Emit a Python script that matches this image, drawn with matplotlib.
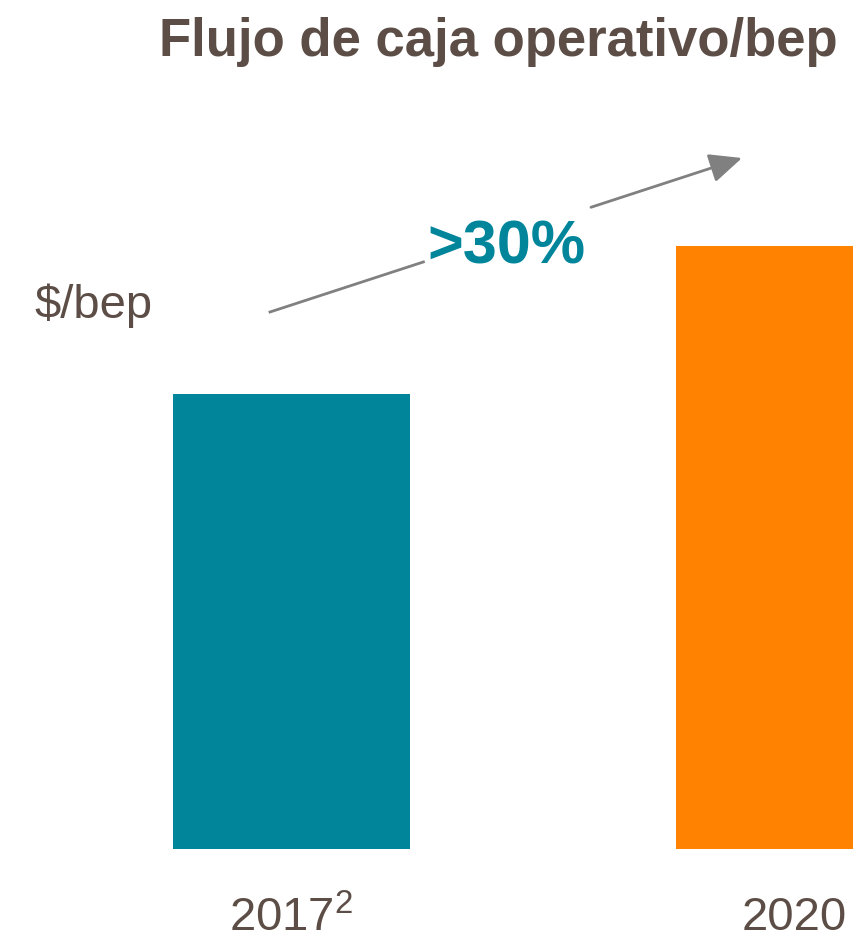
import matplotlib
matplotlib.use("Agg")
import matplotlib.pyplot as plt

# Operating cash flow per barrel of oil equivalent (index, 2017 = 100)
years = ["2017$^{2}$", "2020"]
values = [100.0, 132.5]
bar_colors = ["#00859B", "#FF8200"]
growth_label = ">30%"
unit_label = "$/bep"
title = "Flujo de caja operativo/bep"

text_color = "#5C4E46"
plt.rcParams["font.family"] = ["Liberation Sans", "DejaVu Sans"]
plt.rcParams["mathtext.fontset"] = "custom"
plt.rcParams["mathtext.rm"] = "Liberation Sans"
plt.rcParams["mathtext.it"] = "Liberation Sans"
plt.rcParams["mathtext.default"] = "regular"

W, H = 854, 941
fig = plt.figure(figsize=(W / 100, H / 100), dpi=100)
fig.patch.set_facecolor("white")

# Axes: bottom at the bar base, top at the taller bar
ax_bottom = (H - 849) / H
ax_top = (H - 246) / H
ax = fig.add_axes([0, ax_bottom, 1, ax_top - ax_bottom])

pitch = 503.0           # px between bar centers
first_center = 291.5    # px
width = 237.0 / pitch
x = list(range(len(years)))
ax.bar(x, values, width=width, color=bar_colors, edgecolor="none")
ax.set_xlim(-first_center / pitch, (W - first_center) / pitch)
ax.set_ylim(0, max(values))

ax.set_xticks(x)
ax.set_xticklabels(years, fontsize=34, color=text_color)
ax.tick_params(axis="x", length=0, pad=34)
ax.set_yticks([])
for s in ax.spines.values():
    s.set_visible(False)
ax.patch.set_alpha(0)

# Title and unit label
fig.text(838 / W, 1 - 56 / H, title, ha="right", va="baseline",
         fontsize=38, fontweight="bold", color=text_color)
fig.text(34 / W, 1 - 318 / H, unit_label, ha="left", va="baseline",
         fontsize=34, color=text_color)

# Growth arrow, broken around the percentage label
arrow_color = "#808080"
p0 = (270, 312)
p1 = (742, 158)
def at(t):
    return ((p0[0] + t * (p1[0] - p0[0])) / W, 1 - (p0[1] + t * (p1[1] - p0[1])) / H)

a0, a1 = at(0.0), at(0.325)
fig.add_artist(plt.Line2D([a0[0], a1[0]], [a0[1], a1[1]], color=arrow_color, lw=2,
                          transform=fig.transFigure))
b0, b1 = at(0.68), at(1.0)
ax.annotate("", xy=b1, xytext=b0, xycoords="figure fraction",
            textcoords="figure fraction",
            arrowprops=dict(arrowstyle="-|>,head_length=1.0,head_width=0.45",
                            mutation_scale=20, color=arrow_color, lw=2,
                            shrinkA=0, shrinkB=0))

fig.text(506 / W, 1 - 264 / H, growth_label, ha="center", va="baseline",
         fontsize=44, fontweight="bold", color="#00859B")

fig.savefig("out.png", dpi=100, facecolor="white")
